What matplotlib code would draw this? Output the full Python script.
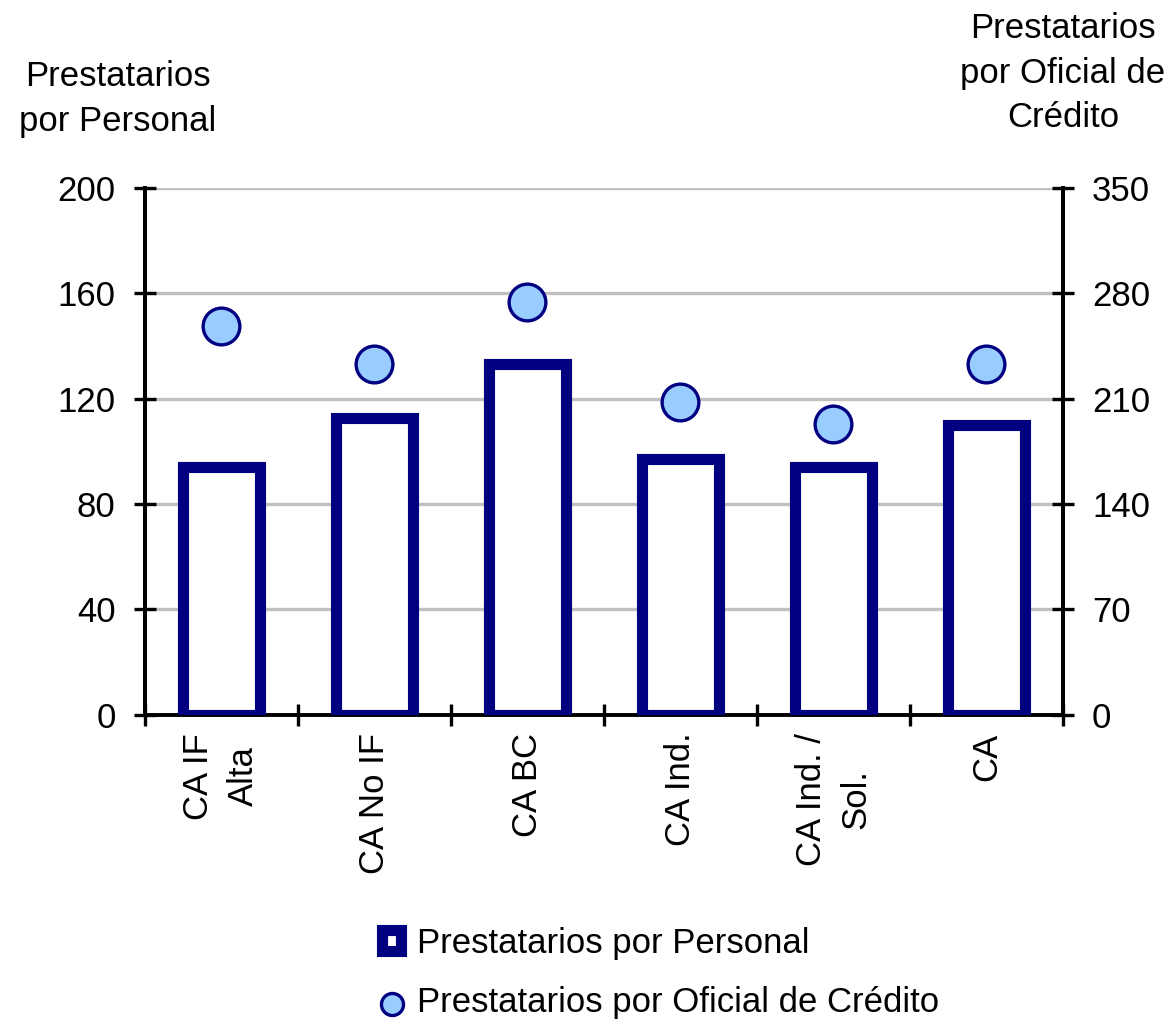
import matplotlib.pyplot as plt
import numpy as np

NAVY = '#000080'
LIGHT_BLUE = '#99ccff'
GRID_GRAY = '#c0c0c0'

categories = ['CA IF\nAlta', 'CA No IF', 'CA BC', 'CA Ind.', 'CA Ind. /\nSol.', 'CA']
por_personal = [94, 112.5, 133, 97, 94, 110]
por_oficial = [258, 233, 274, 208, 193, 233]

left_ticks = [0, 40, 80, 120, 160, 200]
right_ticks = [0, 70, 140, 210, 280, 350]

plt.rcParams['font.family'] = ['Liberation Sans', 'DejaVu Sans']
FS = 25


def plotter() -> None:
    fig = plt.figure(figsize=(11.68, 10.27), dpi=100)
    ax = fig.add_axes([0.124, 0.304, 0.786, 0.513])
    ax2 = ax.twinx()

    x = np.arange(len(categories))

    bars = ax.bar(x, por_personal, width=0.5, facecolor='white',
                  edgecolor=NAVY, linewidth=8, zorder=3,
                  label='Prestatarios por Personal')
    dots = ax2.scatter(x, por_oficial, s=700, facecolor=LIGHT_BLUE,
                       edgecolor=NAVY, linewidth=2.4, zorder=4,
                       label='Prestatarios por Oficial de Crédito')

    ax.set_xlim(-0.5, len(categories) - 0.5)
    ax.set_ylim(0, 200)
    ax2.set_ylim(0, 350)
    ax.set_yticks(left_ticks)
    ax2.set_yticks(right_ticks)

    # category boundaries get tick marks, labels sit in between
    ax.set_xticks(np.arange(len(categories) + 1) - 0.5)
    ax.set_xticklabels([])
    ax.set_xticks(x, minor=True)
    ax.set_xticklabels(categories, minor=True, rotation=90, va='top',
                       ha='center', fontsize=FS, linespacing=1.45,
                       multialignment='center')
    ax.tick_params(axis='x', which='minor', length=0, pad=13)
    ax.tick_params(axis='x', which='major', direction='inout', length=16,
                   width=2.4)

    ax.tick_params(axis='y', direction='inout', length=16, width=2.4,
                   labelsize=FS, pad=13)
    ax2.tick_params(axis='y', direction='inout', length=16, width=2.4,
                    labelsize=FS, pad=13)

    ax.yaxis.grid(True, color=GRID_GRAY, linewidth=2.4, zorder=0)
    ax.set_axisbelow(True)

    for a in (ax, ax2):
        a.spines['top'].set_visible(False)
        for side in ('left', 'right', 'bottom'):
            a.spines[side].set_linewidth(2.8)
    ax2.spines['bottom'].set_visible(False)

    fig.text(118 / 1168, 1 - 99 / 1027, 'Prestatarios\npor Personal',
             ha='center', va='center', fontsize=FS, linespacing=1.45)
    fig.text(1063 / 1168, 1 - 73 / 1027, 'Prestatarios\npor Oficial de\nCrédito',
             ha='center', va='center', fontsize=FS, linespacing=1.45)

    fig.legend([bars, dots],
               ['Prestatarios por Personal', 'Prestatarios por Oficial de Crédito'],
               loc='upper left', bbox_to_anchor=(382 / 1168, 1 - 927 / 1027),
               frameon=False, fontsize=FS, handlelength=0.55, handleheight=0.55,
               handletextpad=0.45, labelspacing=0.75, markerscale=0.6,
               borderpad=0, borderaxespad=0)

    fig.savefig('out.png', dpi=100)


def main() -> None:
    plotter()


main()
